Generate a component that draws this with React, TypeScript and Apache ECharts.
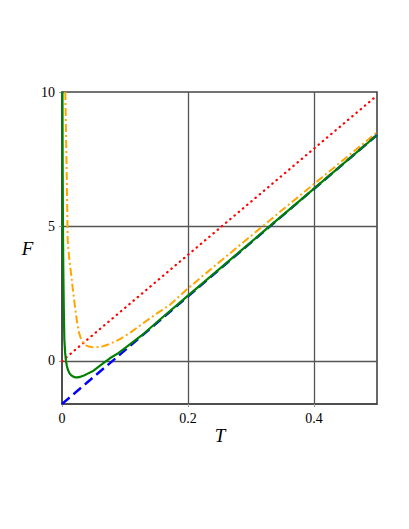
import React, { useEffect, useRef } from "react";
import * as echarts from "echarts";

// Red dotted line
const redT = [0, 0.5];
const redF = [0, 9.87];

// Blue dashed line
const blueT = [0, 0.5];
const blueF = [-1.6, 8.4];

// Orange dash-dot curve
const orangeT = [0.0052, 0.0074, 0.009, 0.0115, 0.0143, 0.0175, 0.0206, 0.0235, 0.026, 0.0285, 0.031, 0.0335, 0.036, 0.039, 0.042, 0.047, 0.052, 0.058, 0.065, 0.072, 0.08, 0.092, 0.11, 0.13, 0.15, 0.171, 0.2, 0.25, 0.3, 0.35, 0.4, 0.45, 0.5];
const orangeF = [10, 7.1, 4.5, 3.8, 3.27, 2.6, 2.02, 1.52, 1.15, 0.93, 0.78, 0.68, 0.62, 0.57, 0.54, 0.52, 0.51, 0.52, 0.55, 0.6, 0.68, 0.81, 1.08, 1.42, 1.76, 2.08, 2.7, 3.68, 4.65, 5.62, 6.58, 7.54, 8.5];

// Green solid curve
const greenT = [0.0007, 0.001, 0.0015, 0.002, 0.0028, 0.0037, 0.005, 0.0063, 0.0076, 0.009, 0.0115, 0.014, 0.0175, 0.021, 0.025, 0.03, 0.035, 0.04, 0.05, 0.063, 0.076, 0.09, 0.103, 0.13, 0.156, 0.2, 0.3, 0.4, 0.5];
const greenF = [10, 7.5, 5, 3.5, 2, 0.8, 0.3, 0, -0.17, -0.3, -0.44, -0.52, -0.58, -0.61, -0.61, -0.58, -0.54, -0.48, -0.36, -0.13, 0.1, 0.3, 0.53, 1.02, 1.55, 2.43, 4.42, 6.41, 8.4];

const xLabels = [0, 0.2, 0.4];
const yLabels = [0, 5, 10];
const xGrid = [0.2, 0.4];
const yGrid = [0, 5];

const zip = (a: number[], b: number[]) => a.map((v, i) => [v, b[i]]);

export default function App() {
  const ref = useRef<HTMLDivElement>(null);
  useEffect(() => {
    if (!ref.current) return;
    const chart = echarts.init(ref.current, null, { renderer: "svg" });
    const font = "Liberation Serif";
    chart.setOption({
      animation: false,
      backgroundColor: "#ffffff",
      grid: {
        left: 62,
        right: 32,
        top: 92,
        bottom: 125,
        show: true,
        borderColor: "#444",
        borderWidth: 1.6,
        backgroundColor: "transparent",
      },
      xAxis: {
        type: "value",
        min: 0,
        max: 0.5,
        axisLine: { show: true, onZero: false, lineStyle: { color: "#444", width: 1.5 } },
        axisTick: { show: true, length: 3, customValues: xLabels, lineStyle: { color: "#999" } },
        axisLabel: {
          margin: 7,
          color: "#000",
          fontFamily: font,
          fontSize: 14,
          customValues: xLabels,
          formatter: (v: number) => String(v),
        },
        splitLine: { show: false },
      },
      yAxis: {
        type: "value",
        min: -1.6,
        max: 10,
        axisLine: { show: true, onZero: false, lineStyle: { color: "#444", width: 1.5 } },
        axisTick: { show: true, length: 3, customValues: yLabels, lineStyle: { color: "#999" } },
        axisLabel: {
          margin: 7,
          color: "#000",
          fontFamily: font,
          fontSize: 14,
          customValues: yLabels,
          formatter: (v: number) => String(v),
        },
        splitLine: { show: false },
      },
      graphic: [
        {
          type: "text",
          x: 27.5,
          y: 248.5,
          style: {
            text: "F",
            fontFamily: font,
            fontStyle: "italic",
            fontSize: 19,
            fill: "#000",
            textAlign: "center",
            textVerticalAlign: "middle",
          },
        },
        {
          type: "text",
          x: 220,
          y: 435,
          style: {
            text: "T",
            fontFamily: font,
            fontStyle: "italic",
            fontSize: 19,
            fill: "#000",
            textAlign: "center",
            textVerticalAlign: "middle",
          },
        },
      ],
      series: [
        {
          type: "line",
          data: zip(redT, redF),
          showSymbol: false,
          lineStyle: { color: "#ff0000", width: 2.2, type: [0.5, 5], cap: "round" },
          z: 2,
          markLine: {
            silent: true,
            symbol: "none",
            label: { show: false },
            lineStyle: { color: "#555", width: 1.3, type: "solid" },
            data: [
              ...xGrid.map((v) => ({ xAxis: v })),
              ...yGrid.map((v) => ({ yAxis: v })),
            ],
            z: 1,
          },
        },
        {
          type: "line",
          data: zip(orangeT, orangeF),
          showSymbol: false,
          lineStyle: { color: "#ffa500", width: 2, type: [8, 3, 2, 3] },
          z: 3,
        },
        {
          type: "line",
          data: zip(blueT, blueF),
          showSymbol: false,
          lineStyle: { color: "#0000ff", width: 2.4, type: [10, 5] },
          z: 4,
        },
        {
          type: "line",
          data: zip(greenT, greenF),
          showSymbol: false,
          lineStyle: { color: "#008000", width: 2.2 },
          z: 5,
        },
      ],
    });
    return () => chart.dispose();
  }, []);
  return (
    <div
      ref={ref}
      style={{ position: "absolute", left: 0, top: 0, width: 409, height: 529 }}
    />
  );
}
